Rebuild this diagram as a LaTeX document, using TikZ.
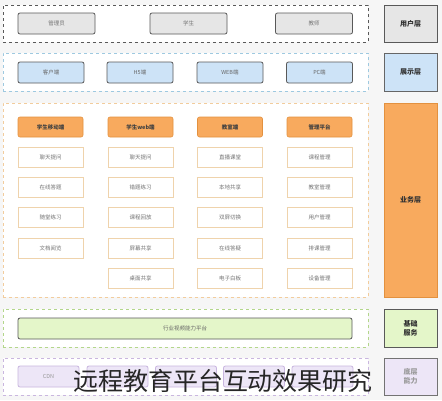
\documentclass[tikz,border=0pt]{standalone}
\usepackage{fontspec}
\setmainfont{Noto Sans CJK SC}
\usepackage{xcolor}
\usepackage{tikz}
\usetikzlibrary{positioning}

\definecolor{bgc}{HTML}{F6F6F6}
\definecolor{grayfill}{HTML}{E6E6E6}
\definecolor{bluefill}{HTML}{CDE3F7}
\definecolor{blueline}{HTML}{9EC9E0}
\definecolor{orangefill}{HTML}{F8AA5E}
\definecolor{orangeline}{HTML}{E3913F}
\definecolor{itemline}{HTML}{EFD3AC}
\definecolor{orangedash}{HTML}{F2CC9C}
\definecolor{greenfill}{HTML}{E4F6C9}
\definecolor{greenline}{HTML}{B3D68A}
\definecolor{purplefill}{HTML}{EDE6F7}
\definecolor{purpleline}{HTML}{C9B6DF}

\begin{document}
\begin{tikzpicture}[x=1pt, y=-1pt,
    layer/.style={rectangle, dashed, line width=0.9pt, fill=white, minimum width=365pt, inner sep=0pt},
    tag/.style={rectangle, line width=0.9pt, minimum width=53pt, inner sep=0pt, align=center, font=\fontsize{7}{9}\selectfont\bfseries, text=black!80},
    userbox/.style={rectangle, rounded corners=2pt, draw=black!65, fill=grayfill, line width=0.8pt, minimum width=77pt, minimum height=21pt, font=\fontsize{5.5}{6}\selectfont, text=black!55},
    showbox/.style={rectangle, rounded corners=2pt, draw=black!65, fill=bluefill, line width=0.8pt, minimum width=66pt, minimum height=21pt, font=\fontsize{5.5}{6}\selectfont, text=black!60},
    head/.style={rectangle, rounded corners=2pt, draw=orangeline, fill=orangefill, line width=0.6pt, minimum width=65pt, minimum height=20pt, font=\fontsize{5.5}{6}\selectfont\bfseries, text=black!75},
    item/.style={rectangle, draw=itemline, fill=white, line width=0.8pt, minimum width=65pt, minimum height=20pt, font=\fontsize{5.5}{6}\selectfont, text=black!55},
    basebox/.style={rectangle, rounded corners=2pt, draw=black!65, fill=greenfill, line width=0.8pt, minimum width=334pt, minimum height=21pt, font=\fontsize{5.5}{6}\selectfont, text=black!60},
    capbox/.style={rectangle, rounded corners=2pt, draw=purpleline, fill=purplefill, line width=0.8pt, minimum width=61pt, minimum height=21pt, font=\fontsize{5.5}{6}\selectfont, text=black!40},
]
% background
\fill[bgc] (0,0) rectangle (442,400);
\useasboundingbox (0,0) rectangle (442,400);

% user layer
\node[layer, draw=black!65, minimum height=37pt] (ulayer) at (185.5,23.5) {};
\node[userbox] (admin) at (56.5,23.5) {管理员};
\node[userbox] (student) at (188.5,23.5) {学生};
\node[userbox] (teacher) at (314,23.5) {教师};
\node[tag, draw=black!65, fill=grayfill, minimum height=37pt] (utag) at (410.5,23.5) {用户层};

% display layer
\node[layer, draw=blueline, minimum height=38pt] (slayer) at (185.5,72) {};
\node[showbox] (client) at (51,72.5) {客户端};
\node[showbox] (hfive) at (140,72.5) {H5端};
\node[showbox] (web) at (230,72.5) {WEB端};
\node[showbox] (pc) at (319.5,72.5) {PC端};
\node[tag, draw=black!60, fill=bluefill, minimum height=38pt] (stag) at (410.5,72) {展示层};

% business layer
\node[layer, draw=orangedash, minimum height=194pt] (blayer) at (185.5,200) {};
\node[tag, draw=orangeline, fill=orangefill, minimum height=194pt] (btag) at (410.5,200) {业务层};
% column 1
\node[head] (mob) at (50.5,127) {学生移动端};
\node[item, below=9.5pt of mob] (mob1) {聊天提问};
\node[item, below=9.5pt of mob1] (mob2) {在线答题};
\node[item, below=9.5pt of mob2] (mob3) {随堂练习};
\node[item, below=9.5pt of mob3] (mob4) {文档阅览};
% column 2
\node[head] (sweb) at (140.5,127) {学生web端};
\node[item, below=9.5pt of sweb] (sweb1) {聊天提问};
\node[item, below=9.5pt of sweb1] (sweb2) {错题练习};
\node[item, below=9.5pt of sweb2] (sweb3) {课程回放};
\node[item, below=9.5pt of sweb3] (sweb4) {屏幕共享};
\node[item, below=9.5pt of sweb4] (sweb5) {桌面共享};
% column 3
\node[head] (room) at (230,127) {教室端};
\node[item, below=9.5pt of room] (room1) {直播课堂};
\node[item, below=9.5pt of room1] (room2) {本地共享};
\node[item, below=9.5pt of room2] (room3) {双屏切换};
\node[item, below=9.5pt of room3] (room4) {在线答疑};
\node[item, below=9.5pt of room4] (room5) {电子白板};
% column 4
\node[head] (mgmt) at (319.5,127) {管理平台};
\node[item, below=9.5pt of mgmt] (mgmt1) {课程管理};
\node[item, below=9.5pt of mgmt1] (mgmt2) {教室管理};
\node[item, below=9.5pt of mgmt2] (mgmt3) {用户管理};
\node[item, below=9.5pt of mgmt3] (mgmt4) {排课管理};
\node[item, below=9.5pt of mgmt4] (mgmt5) {设备管理};

% base service
\node[layer, draw=greenline, minimum height=38pt] (glayer) at (185.5,328) {};
\node[basebox] (video) at (185,328.5) {行业视频能力平台};
\node[tag, draw=black!65, fill=greenfill, minimum height=38pt] (gtag) at (410.5,328) {基础\\服务};

% bottom capability
\node[layer, draw=purpleline, minimum height=37pt] (player) at (185.5,376.5) {};
\node[capbox] (cdn) at (48.5,376.5) {CDN};
\node[capbox] (cap2) at (117.5,376.5) {};
\node[capbox] (cap3) at (186,376.5) {};
\node[capbox] (cap4) at (254,376.5) {};
\node[capbox] (cap5) at (322.5,376.5) {};
\node[tag, draw=black!55, fill=purplefill, minimum height=37pt, text=black!40] (ptag) at (410.5,376.5) {底层\\能力};

% title
\node[font=\fontsize{25}{26}\selectfont, text=black!85] (title) at (223,381) {远程教育平台互动效果研究};
\end{tikzpicture}
\end{document}
